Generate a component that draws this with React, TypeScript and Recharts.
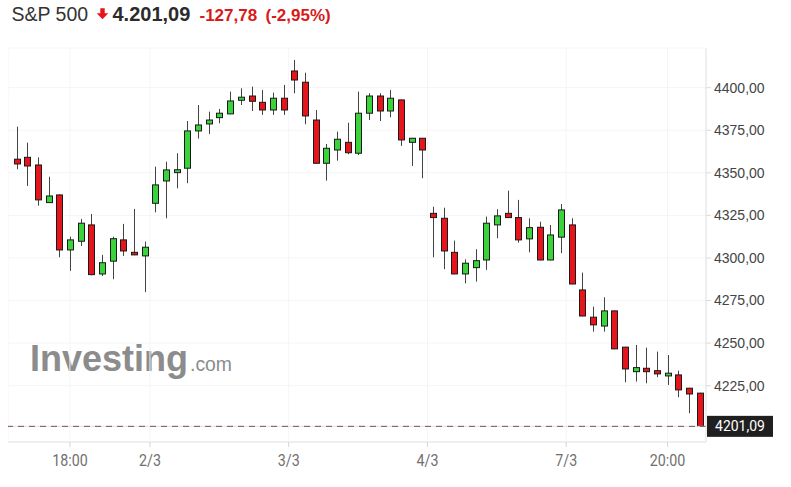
import React from 'react';
import { ComposedChart, Bar, XAxis, YAxis, CartesianGrid, ReferenceLine } from 'recharts';

// hourly candles
const opens = [
  4358.0, 4359.1, 4354.6, 4332.5, 4337.0, 4304.7, 4309.8, 4319.4, 4290.6, 4298.1, 4310.6, 4303.3, 4301.2,
  4332.1, 4345.2, 4350.1, 4352.7, 4374.6, 4378.7, 4382.4, 4384.6, 4392.6, 4395.1, 4391.4, 4386.9, 4393.8,
  4409.8, 4403.2, 4381.0, 4355.6, 4363.4, 4367.9, 4361.5, 4385.0, 4395.1, 4386.3, 4392.8, 4367.9, 4370.3,
  4326.2, 4323.3, 4303.3, 4290.6, 4294.3, 4298.8, 4319.4, 4326.2, 4323.7, 4311.2, 4318.0, 4298.8, 4312.2,
  4319.4, 4281.2, 4265.2, 4260.0, 4268.9, 4247.6, 4233.2, 4235.2, 4233.8, 4230.7, 4231.3, 4223.5, 4220.6,
];
const highs = [
  4377.1, 4367.7, 4359.1, 4347.7, 4337.3, 4312.5, 4322.9, 4325.8, 4301.8, 4312.5, 4320.0, 4328.8, 4309.6,
  4353.6, 4356.5, 4361.5, 4380.4, 4389.8, 4385.9, 4387.5, 4397.7, 4399.6, 4400.6, 4398.6, 4397.1, 4401.6,
  4416.3, 4408.8, 4386.9, 4366.9, 4374.2, 4379.4, 4397.7, 4396.7, 4396.7, 4398.6, 4393.0, 4370.5, 4370.5,
  4330.1, 4329.5, 4310.2, 4299.2, 4305.1, 4324.3, 4328.6, 4339.5, 4334.1, 4323.3, 4321.3, 4319.4, 4331.7,
  4323.3, 4291.4, 4271.4, 4276.9, 4269.1, 4247.8, 4248.9, 4247.3, 4245.0, 4243.0, 4233.8, 4223.7, 4220.8,
];
const lows = [
  4352.1, 4342.3, 4330.7, 4332.3, 4300.4, 4292.4, 4307.0, 4289.8, 4289.4, 4287.5, 4301.2, 4301.6, 4279.9,
  4326.8, 4323.3, 4340.9, 4343.9, 4370.1, 4372.8, 4379.1, 4384.4, 4389.8, 4386.3, 4384.0, 4384.0, 4384.0,
  4396.7, 4378.5, 4355.4, 4345.4, 4357.1, 4360.9, 4360.5, 4381.0, 4380.4, 4382.6, 4365.8, 4354.0, 4346.8,
  4300.4, 4293.4, 4290.4, 4285.1, 4286.1, 4293.0, 4311.6, 4323.5, 4309.0, 4303.3, 4298.6, 4298.6, 4302.8,
  4284.5, 4265.7, 4256.7, 4256.7, 4246.4, 4227.0, 4227.4, 4226.4, 4230.0, 4225.4, 4218.2, 4208.8, 4201.0,
];
const closes = [
  4355.2, 4354.0, 4334.1, 4336.4, 4304.7, 4310.6, 4320.4, 4290.2, 4297.2, 4311.3, 4304.1, 4301.8, 4306.3,
  4342.9, 4351.7, 4351.8, 4374.6, 4378.1, 4381.0, 4385.0, 4392.2, 4394.4, 4392.0, 4386.9, 4393.8, 4386.9,
  4404.5, 4383.4, 4355.6, 4364.4, 4369.7, 4361.8, 4385.0, 4395.1, 4386.3, 4393.8, 4369.3, 4370.3, 4363.4,
  4323.7, 4304.1, 4290.6, 4296.9, 4298.4, 4320.4, 4324.7, 4323.7, 4310.6, 4317.8, 4298.8, 4313.5, 4328.2,
  4284.7, 4265.9, 4260.7, 4268.9, 4246.6, 4234.8, 4235.6, 4233.2, 4231.9, 4232.3, 4222.5, 4220.1, 4201.09,
];

const priceTicks = [4225, 4250, 4275, 4300, 4325, 4350, 4375, 4400];
const timeTicks = [5, 12.5, 25.5, 38.5, 51.5, 61];
const timeLabels = ['18:00', '2/3', '3/3', '4/3', '7/3', '20:00'];

const symbol = 'S&P 500';
const lastPrice = 4201.09;
const lastText = '4.201,09';
const changeText = '-127,78';
const changePctText = '(-2,95%)';

const UP = '#3bd33b';
const DOWN = '#e5151b';
const ARIAL = '"Liberation Sans", Arial, sans-serif';

const rows = opens.map((o, i) => ({
  i,
  open: o,
  high: highs[i],
  low: lows[i],
  close: closes[i],
  range: [lows[i], highs[i]],
}));

const fmt = (v: number) => v.toFixed(2).replace('.', ',');

const Candle = (props: any) => {
  const { x, y, width, height } = props;
  const d = props.payload ?? props;
  const ratio = height / (d.high - d.low);
  const cx = Math.round(x + width / 2) + 0.5;
  const top = y + (d.high - Math.max(d.open, d.close)) * ratio;
  const bh = Math.max(Math.abs(d.open - d.close) * ratio, 1);
  return (
    <g>
      <line x1={cx} x2={cx} y1={y} y2={y + height} stroke="#444" strokeWidth={1} />
      <rect x={cx - 3} y={top} width={6} height={bh} fill={d.close >= d.open ? UP : DOWN} stroke="#1a1a1a" strokeWidth={1} />
    </g>
  );
};

const TimeTick = ({ x, y, payload }: any) => (
  <text
    transform={`translate(${x},${y + 16.5}) scale(0.84,1)`}
    textAnchor="middle"
    fill="#707070"
    fontSize={17}
    fontFamily="Roboto, sans-serif"
  >
    {timeLabels[timeTicks.indexOf(payload.value)]}
  </text>
);

const PriceTag = ({ viewBox }: any) => {
  const x = viewBox.x + viewBox.width + 1;
  const y = viewBox.y;
  return (
    <g>
      <rect x={x} y={y - 10.5} width={66} height={21} fill="#1f1f1f" />
      <text x={x + 33} y={y + 5} textAnchor="middle" fill="#fff" fontSize={14} fontFamily="Roboto, sans-serif">
        {fmt(lastPrice)}
      </text>
    </g>
  );
};

export default function App() {
  return (
    <div style={{ position: 'absolute', left: 0, top: 0, width: 791, height: 487, background: '#fff' }}>
      {/* watermark */}
      <svg width={791} height={487} style={{ position: 'absolute', left: 0, top: 0 }}>
        <text x={30} y={371} fontSize={37} fontWeight="bold" fill="#8c8c8c" fontFamily={ARIAL} textLength={158} lengthAdjust="spacingAndGlyphs">
          Investing
        </text>
        <text x={190} y={371} fontSize={21} fill="#8c8c8c" fontFamily={ARIAL} textLength={42} lengthAdjust="spacingAndGlyphs">
          .com
        </text>
      </svg>

      <div style={{ position: 'absolute', left: 8, top: 8 }}>
        <ComposedChart width={775} height={470} data={rows} margin={{ top: 40, right: 0, bottom: 6, left: 0 }}>
          <CartesianGrid stroke="#f5f5f5" />
          <XAxis
            type="number"
            dataKey="i"
            domain={[-0.8, 64.6]}
            allowDataOverflow
            ticks={timeTicks}
            interval={0}
            tick={<TimeTick />}
            tickSize={5}
            tickLine={{ stroke: '#d5d5d5' }}
            axisLine={{ stroke: '#e3e3e3' }}
            height={30}
          />
          <YAxis
            orientation="right"
            domain={[4191.9, 4423.3]}
            allowDataOverflow
            ticks={priceTicks}
            interval={0}
            tickFormatter={fmt}
            width={77}
            tickSize={5}
            tickMargin={3}
            tick={{ fontSize: 14, fill: '#444', fontFamily: ARIAL }}
            tickLine={{ stroke: '#dcdcdc' }}
            axisLine={{ stroke: '#e3e3e3' }}
          />
          <ReferenceLine y={lastPrice} stroke="#f6d9de" strokeWidth={1} />
          <Bar dataKey="range" barSize={7} shape={Candle} isAnimationActive={false} />
          <ReferenceLine y={lastPrice} stroke="#6e585c" strokeDasharray="6 5" label={<PriceTag />} />
        </ComposedChart>
      </div>

      <svg width={400} height={32} style={{ position: 'absolute', left: 0, top: 0 }}>
        <text x={11.5} y={21} fontSize={19.5} fill="#333" fontFamily={ARIAL}>
          {symbol}
        </text>
        <path d="M100.3 8.3 h4.4 v5 h3.6 l-5.8 6 l-5.8 -6 h3.6 z" fill={DOWN} />
        <text x={112.5} y={21} fontSize={20} fontWeight="bold" fill="#2b2b2b" fontFamily={ARIAL}>
          {lastText}
        </text>
        <text x={199.5} y={21} fontSize={17} fontWeight="bold" fill="#d91a1a" fontFamily={ARIAL}>
          {changeText}
        </text>
        <text x={265.5} y={21} fontSize={17} fontWeight="bold" fill="#d91a1a" fontFamily={ARIAL}>
          {changePctText}
        </text>
      </svg>
    </div>
  );
}
